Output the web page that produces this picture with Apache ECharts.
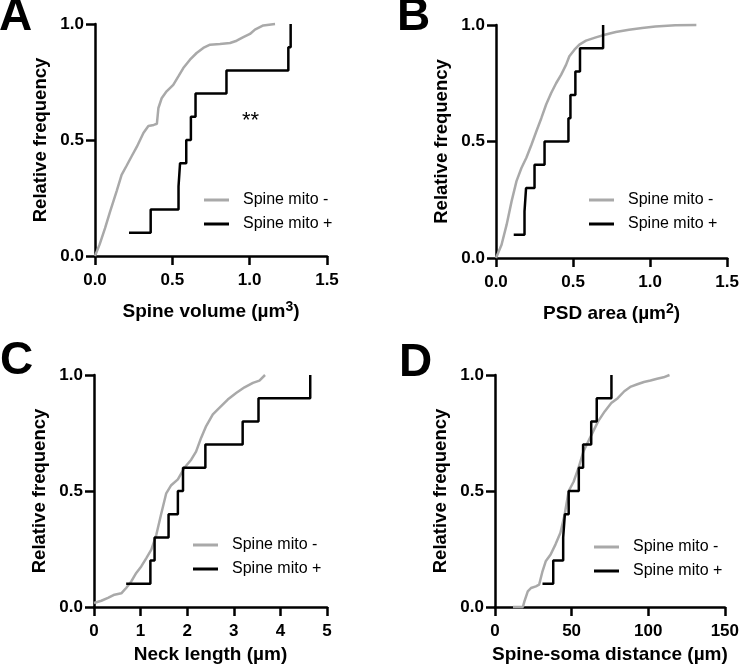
<!DOCTYPE html>
<html>
<head>
<meta charset="utf-8">
<script src="https://cdn.jsdelivr.net/npm/echarts@6/dist/echarts.min.js"></script>
<style>
html,body{margin:0;padding:0;background:#fff;}
#chart{width:742px;height:668px;}
</style>
</head>
<body>
<div id="chart"></div>
<script>
// ---- Data ----
var yTickLabels = ['0.0', '0.5', '1.0'];
var xTickLabelsA = ['0.0', '0.5', '1.0', '1.5'];
var xTickLabelsB = ['0.0', '0.5', '1.0', '1.5'];
var xTickLabelsC = ['0', '1', '2', '3', '4', '5'];
var xTickLabelsD = ['0', '50', '100', '150'];

var blackY = [0.1, 0.2, 0.3, 0.4, 0.5, 0.6, 0.7, 0.8, 0.9, 1.0];

// Panel A: Spine volume
var blackAx = [0.22, 0.36, 0.54, 0.55, 0.59, 0.62, 0.65, 0.85, 1.25, 1.265];
var grayAx = [0.0, 0.03, 0.065, 0.097, 0.14, 0.172, 0.205, 0.237, 0.27, 0.313, 0.345, 0.38, 0.40, 0.41, 0.431, 0.463, 0.506, 0.539, 0.571, 0.614, 0.657, 0.70, 0.744, 0.808, 0.873, 0.916, 0.959, 1.002, 1.034, 1.088, 1.164];
var grayAy = [0.0, 0.05, 0.12, 0.19, 0.28, 0.35, 0.39, 0.43, 0.47, 0.53, 0.56, 0.565, 0.57, 0.638, 0.68, 0.71, 0.738, 0.774, 0.81, 0.846, 0.875, 0.897, 0.911, 0.914, 0.918, 0.928, 0.943, 0.957, 0.976, 0.994, 1.0];

// Panel B: PSD area
var blackBx = [0.115, 0.185, 0.195, 0.25, 0.315, 0.47, 0.483, 0.515, 0.545, 0.695];
var grayBx = [0.0, 0.036, 0.069, 0.101, 0.133, 0.165, 0.197, 0.23, 0.262, 0.294, 0.326, 0.358, 0.39, 0.423, 0.455, 0.476, 0.509, 0.541, 0.584, 0.648, 0.712, 0.777, 0.863, 0.948, 1.034, 1.163, 1.30];
var grayBy = [0.0, 0.057, 0.143, 0.243, 0.33, 0.386, 0.43, 0.486, 0.544, 0.60, 0.66, 0.708, 0.75, 0.787, 0.83, 0.866, 0.894, 0.916, 0.933, 0.947, 0.959, 0.97, 0.98, 0.987, 0.994, 0.999, 1.0];

// Panel C: Neck length
var blackCx = [0.69, 1.21, 1.30, 1.60, 1.80, 1.91, 2.39, 3.19, 3.53, 4.64];
var grayCx = [0.0, 0.157, 0.30, 0.44, 0.586, 0.69, 0.80, 0.907, 1.014, 1.12, 1.23, 1.336, 1.44, 1.55, 1.657, 1.80, 1.94, 2.086, 2.19, 2.30, 2.407, 2.55, 2.69, 2.87, 3.05, 3.23, 3.41, 3.55, 3.67];
var grayCy = [0.017, 0.027, 0.039, 0.053, 0.059, 0.082, 0.11, 0.147, 0.175, 0.21, 0.247, 0.31, 0.40, 0.49, 0.525, 0.55, 0.60, 0.635, 0.67, 0.73, 0.78, 0.83, 0.858, 0.894, 0.922, 0.947, 0.966, 0.976, 1.0];

// Panel D: Spine-soma distance
var blackDx = [31, 38, 44.5, 45.6, 48.1, 54.7, 57.5, 62.8, 66.4, 76];
var grayDx = [11.75, 18.2, 19.2, 21.4, 23.5, 26.7, 28.8, 31, 33.1, 36.3, 39.5, 42.7, 45.5, 48.1, 51.3, 54.5, 57.7, 60.9, 64.1, 67.3, 71.6, 75.9, 80.1, 84.4, 88.7, 92.9, 97.2, 101.5, 105.8, 110, 113.9];
var grayDy = [0.0, 0.0, 0.024, 0.067, 0.082, 0.089, 0.096, 0.154, 0.197, 0.226, 0.27, 0.32, 0.40, 0.50, 0.54, 0.60, 0.67, 0.714, 0.757, 0.80, 0.843, 0.879, 0.90, 0.93, 0.95, 0.96, 0.97, 0.976, 0.984, 0.99, 1.0];

var seriesNames = ['Spine mito -', 'Spine mito +'];
var panelLetters = ['A', 'B', 'C', 'D'];
var xTitles = ['Spine volume (µm{sup|3})', 'PSD area (µm{sup|2})', 'Neck length (µm)', 'Spine-soma distance (µm)'];
var yTitle = 'Relative frequency';

// ---- Build ----
function zip(xs, ys) { return xs.map(function (x, i) { return [x, ys[i]]; }); }

var FONT = 'Liberation Sans, Arial, Helvetica, sans-serif';
var GRAY = '#a9a9a9';

var grids = [
  { left: 95, top: 24, width: 232, height: 232 },
  { left: 496, top: 25, width: 233, height: 233 },
  { left: 94, top: 375, width: 233, height: 232 },
  { left: 495, top: 375, width: 234, height: 232 }
];
var xRanges = [
  { max: 1.5, interval: 0.5, labels: xTickLabelsA, gap: 44, lh: 24 },
  { max: 1.5, interval: 0.5, labels: xTickLabelsB, gap: 44, lh: 24 },
  { max: 5, interval: 1, labels: xTickLabelsC, gap: 38, lh: 19 },
  { max: 150, interval: 50, labels: xTickLabelsD, gap: 38, lh: 19 }
];
var grayData = [zip(grayAx, grayAy), zip(grayBx, grayBy), zip(grayCx, grayCy), zip(grayDx, grayDy)];
var blackData = [zip(blackAx, blackY), zip(blackBx, blackY), zip(blackCx, blackY), zip(blackDx, blackY)];

var axisLineStyle = { color: '#000', width: 2.5 };
var xAxes = [], yAxes = [], series = [], legends = [], graphics = [];

xRanges.forEach(function (r, i) {
  xAxes.push({
    type: 'value', gridIndex: i, min: 0, max: r.max, interval: r.interval,
    name: xTitles[i], nameLocation: 'middle', nameGap: r.gap,
    nameTextStyle: {
      fontFamily: FONT, fontWeight: 'bold', fontSize: 19, color: '#000', lineHeight: r.lh,
      rich: { sup: { fontFamily: FONT, fontWeight: 'bold', fontSize: 14, color: '#000', verticalAlign: 'top', lineHeight: 14 } }
    },
    axisLine: { show: true, onZero: false, lineStyle: axisLineStyle },
    axisTick: { show: true, length: 9, lineStyle: axisLineStyle },
    splitLine: { show: false },
    axisLabel: {
      margin: 16, fontFamily: FONT, fontWeight: 'bold', fontSize: 17, color: '#000',
      formatter: (function (labels, iv) { return function (v) { return labels[Math.round(v / iv)]; }; })(r.labels, r.interval)
    }
  });
  yAxes.push({
    type: 'value', gridIndex: i, min: 0, max: 1, interval: 0.5,
    name: yTitle, nameLocation: 'middle', nameGap: 45, nameRotate: 90,
    nameTextStyle: { fontFamily: FONT, fontWeight: 'bold', fontSize: 18.5, color: '#000' },
    axisLine: { show: true, onZero: false, lineStyle: axisLineStyle },
    axisTick: { show: true, length: 9, lineStyle: axisLineStyle },
    splitLine: { show: false },
    axisLabel: {
      margin: 11, fontFamily: FONT, fontWeight: 'bold', fontSize: 17, color: '#000',
      formatter: function (v) { return yTickLabels[Math.round(v / 0.5)]; }
    }
  });
  series.push({
    name: seriesNames[0], type: 'line', xAxisIndex: i, yAxisIndex: i,
    data: grayData[i], showSymbol: false, symbol: 'none', clip: false, silent: true,
    lineStyle: { color: GRAY, width: 2.5 }, itemStyle: { color: GRAY }, z: 2
  });
  series.push({
    name: seriesNames[1], type: 'line', xAxisIndex: i, yAxisIndex: i, step: 'end',
    data: blackData[i], showSymbol: false, symbol: 'none', clip: false, silent: true,
    lineStyle: { color: '#000', width: 2.5 }, itemStyle: { color: '#000' }, z: 3
  });
});

var legendPos = [
  { left: 204, top: 192 },
  { left: 589, top: 192 },
  { left: 193, top: 537 },
  { left: 594, top: 539 }
];
legendPos.forEach(function (p) {
  legends.push({
    left: p.left, top: p.top, orient: 'vertical', padding: 0, itemGap: 8,
    itemWidth: 25, itemHeight: 3, icon: 'rect', selectedMode: false,
    data: [{ name: seriesNames[0], itemStyle: { color: GRAY } }, { name: seriesNames[1], itemStyle: { color: '#000' } }],
    textStyle: { fontFamily: FONT, fontSize: 16, color: '#000', padding: [0, 0, 0, 9] }
  });
});

var letterPos = [[-1, 18], [397, 18], [0, 362], [399, 364]];
letterPos.forEach(function (p, i) {
  graphics.push({
    type: 'text', left: p[0], top: p[1] - 24,
    style: { text: panelLetters[i], font: 'bold 46px ' + FONT, fill: '#000' }
  });
});
graphics.push({
  type: 'text', left: 242, top: 110,
  style: { text: '**', font: '22px ' + FONT, fill: '#000' }
});

var chart = echarts.init(document.getElementById('chart'), null, { renderer: 'canvas' });
chart.setOption({
  backgroundColor: '#fff',
  animation: false,
  grid: grids,
  xAxis: xAxes,
  yAxis: yAxes,
  legend: legends,
  series: series,
  graphic: graphics
});
</script>
</body>
</html>
